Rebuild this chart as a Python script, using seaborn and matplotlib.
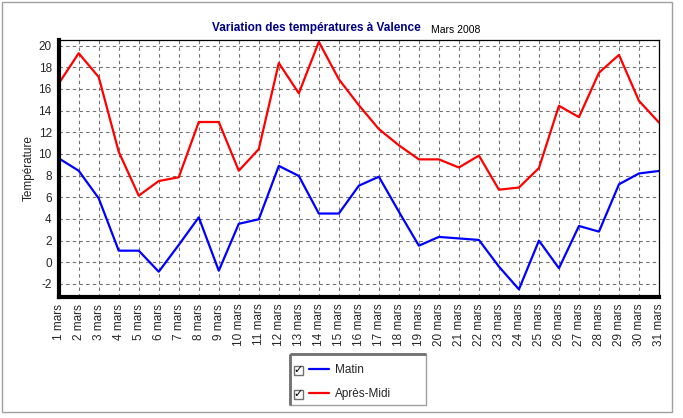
import numpy as np
import pandas as pd
import matplotlib
matplotlib.use("Agg")
import matplotlib.pyplot as plt
from matplotlib.patches import Rectangle
import seaborn as sns

# donnees (mars 2008)
jours = list(range(1, 32))
etiquettes = [f"{j} mars" for j in jours]
matin = [9.6, 8.45, 5.9, 1.07, 1.07, -0.87, 1.6, 4.15, -0.78, 3.55,
         3.97, 8.9, 7.97, 4.5, 4.5, 7.07, 7.9, 4.67, 1.53, 2.34,
         2.2, 2.06, -0.4, -2.5, 2.0, -0.55, 3.35, 2.83, 7.2, 8.2, 8.43]
apres_midi = [16.5, 19.3, 17.1, 10.2, 6.15, 7.5, 7.85, 12.95, 12.95, 8.45,
              10.45, 18.4, 15.6, 20.35, 16.9, 14.5, 12.3, 10.8, 9.5, 9.5,
              8.75, 9.85, 6.7, 6.9, 8.7, 14.45, 13.4, 17.5, 19.15, 14.9, 12.9]
series = ["Matin", "Après-Midi"]
couleurs = {"Matin": "#0000ff", "Après-Midi": "#ff0000"}

df = pd.DataFrame({
    "jour": jours * 2,
    "temp": matin + apres_midi,
    "serie": ["Matin"] * 31 + ["Après-Midi"] * 31,
})

sns.set_style("white")
plt.rcParams["font.family"] = ["Liberation Sans", "DejaVu Sans"]

W, H = 683, 418
fig = plt.figure(figsize=(6.83, 4.18), dpi=100)
ax = fig.add_axes([58.7 / W, 1 - 296.7 / H, (659 - 58.7) / W, (296.7 - 39.7) / H])

sns.lineplot(data=df, x="jour", y="temp", hue="serie", hue_order=series,
             palette=couleurs, linewidth=1.6, ax=ax, legend=False)

ax.set_xlim(1, 31)
ax.set_ylim(-3.18, 20.55)
ax.set_xticks(jours)
ax.set_xticklabels(etiquettes, rotation=90, fontsize=8.5)
ax.set_yticks(np.arange(-2, 21, 2))
ax.set_yticklabels([str(v) for v in range(-2, 21, 2)], fontsize=8.5)
ax.tick_params(axis="both", length=3, width=0.8, color="black", pad=2, direction="out")
ax.set_xlabel("")
ax.set_ylabel("Température", fontsize=8.5, labelpad=3)

ax.grid(True, color="#707070", linestyle=(0, (3, 3)), linewidth=0.8)
for cote in ["top", "right"]:
    ax.spines[cote].set_linewidth(0.9)
    ax.spines[cote].set_color("black")
for cote in ["left", "bottom"]:
    ax.spines[cote].set_linewidth(3)
    ax.spines[cote].set_color("black")

# titre
fig.text(316 / W, 1 - 31 / H, "Variation des températures à Valence",
         ha="center", va="baseline", fontsize=8.5, fontweight="bold", color="#000080")
fig.text(431 / W, 1 - 33 / H, "Mars 2008", ha="left", va="baseline",
         fontsize=7.5, color="black")

# cadre de la legende
fig.add_artist(Rectangle((290 / W, 1 - 405 / H), 136 / W, 51 / H,
                         transform=fig.transFigure, facecolor="white",
                         edgecolor="#a0a0a0", linewidth=1, zorder=5))
fig.add_artist(Rectangle((290 / W, 1 - 405 / H), 0, 51 / H,
                         transform=fig.transFigure, fill=False,
                         edgecolor="#707070", linewidth=2, zorder=6))
fig.add_artist(Rectangle((290 / W, 1 - 354 / H), 136 / W, 0,
                         transform=fig.transFigure, fill=False,
                         edgecolor="#707070", linewidth=2, zorder=6))

leg = fig.legend(handles=ax.get_lines()[:2], labels=series,
                 loc="upper left", bbox_to_anchor=(309 / W, 1 - 364 / H),
                 frameon=False, fontsize=8.5, handlelength=1.7,
                 handletextpad=0.5, labelspacing=1.05, borderpad=0,
                 borderaxespad=0)
leg.set_zorder(7)

fig.canvas.draw()
# cases a cocher devant chaque entree
for txt in leg.get_texts():
    tb = txt.get_window_extent()
    yc = (tb.y0 + tb.y1) / 2
    x0 = 294
    fig.add_artist(Rectangle((x0, yc - 4.5), 9, 9, transform=None,
                             facecolor="white", edgecolor="#707070",
                             linewidth=1, zorder=8))
    fig.text(x0 + 4.5, yc, "✓", transform=None, ha="center", va="center",
             fontsize=8, fontweight="bold", family="DejaVu Sans",
             color="black", zorder=9)

# cadre exterieur
fig.add_artist(Rectangle((2 / W, 1 - 412 / H), 670 / W, 410 / H,
                         transform=fig.transFigure, fill=False,
                         edgecolor="#a0a0a0", linewidth=1))

fig.savefig("out.png", dpi=100)
